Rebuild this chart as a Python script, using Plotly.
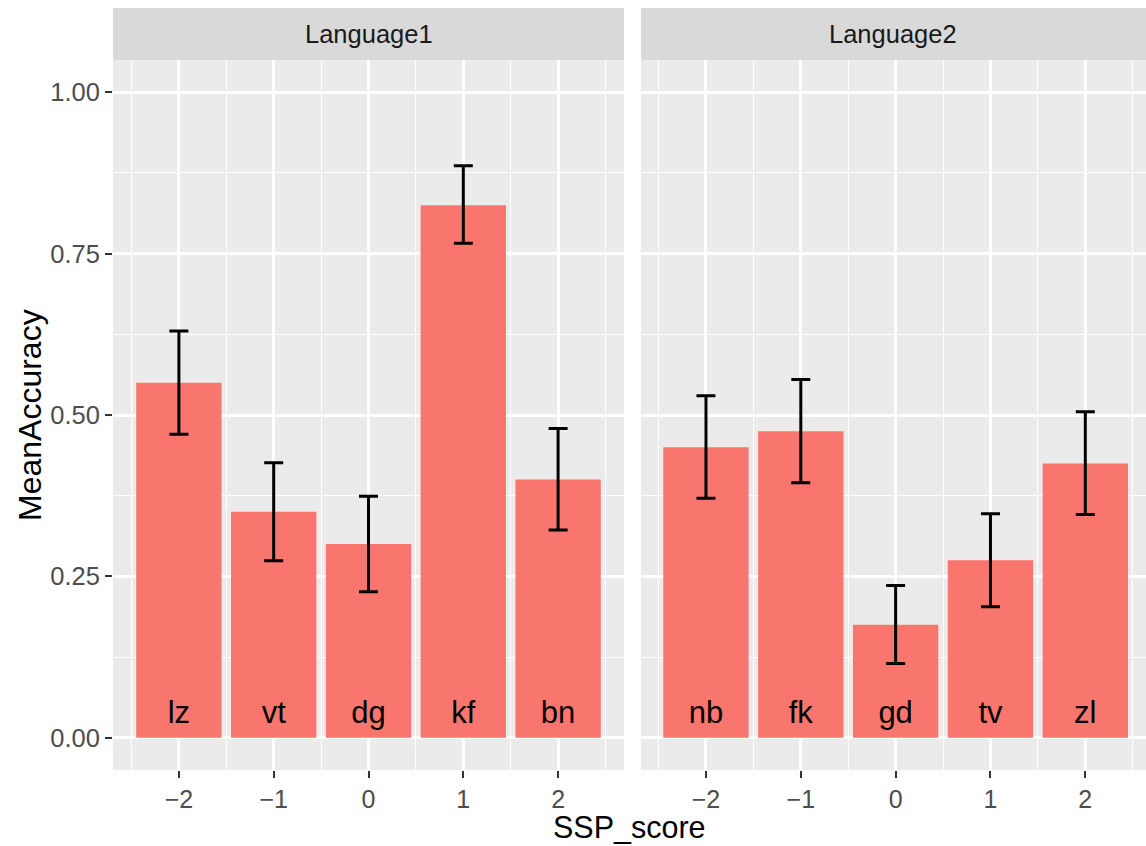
import plotly.graph_objects as go

ssp = [-2, -1, 0, 1, 2]
lang1_labels = ["lz", "vt", "dg", "kf", "bn"]
lang1_mean = [0.55, 0.35, 0.30, 0.825, 0.40]
lang1_lo = [0.470, 0.274, 0.226, 0.766, 0.322]
lang1_hi = [0.630, 0.426, 0.374, 0.886, 0.479]

lang2_labels = ["nb", "fk", "gd", "tv", "zl"]
lang2_mean = [0.45, 0.475, 0.175, 0.275, 0.425]
lang2_lo = [0.371, 0.395, 0.115, 0.203, 0.346]
lang2_hi = [0.530, 0.555, 0.236, 0.347, 0.505]

facets = ["Language1", "Language2"]
label_y = 0.035

BAR = "#F8766D"
W, H = 1146, 846
ml, mr, mt, mb = 113, 0, 8, 76
pw = W - ml - mr
ph = H - mt - mb
p1 = (0, (624 - ml) / pw)
p2 = ((641 - ml) / pw, 1.0)
ytop = (770 - 60) / ph

FONT = "Liberation Sans, Arial"

fig = go.Figure()
for i, (mean, lo, hi, labs) in enumerate([
        (lang1_mean, lang1_lo, lang1_hi, lang1_labels),
        (lang2_mean, lang2_lo, lang2_hi, lang2_labels)]):
    xa = "x" if i == 0 else "x2"
    ya = "y" if i == 0 else "y2"
    fig.add_trace(go.Bar(
        x=ssp, y=mean, width=0.9, marker=dict(color=BAR, line=dict(width=0)),
        error_y=dict(type="data", symmetric=False,
                     array=[h - m for h, m in zip(hi, mean)],
                     arrayminus=[m - l for l, m in zip(lo, mean)],
                     color="black", thickness=3, width=9.5),
        xaxis=xa, yaxis=ya, showlegend=False, hoverinfo="skip"))
    fig.add_trace(go.Scatter(
        x=ssp, y=[label_y] * len(ssp), text=labs, mode="text",
        textposition="middle center",
        textfont=dict(family=FONT, size=31, color="black"),
        xaxis=xa, yaxis=ya, showlegend=False, hoverinfo="skip"))

tickfont = dict(family=FONT, size=25, color="#4D4D4D")
xcommon = dict(
    range=[-2.695, 2.695], tickvals=ssp, ticktext=["\u22122", "\u22121", "0", "1", "2"],
    showgrid=True, gridcolor="white", gridwidth=2.6,
    minor=dict(dtick=0.5, tick0=0.5, showgrid=True, gridcolor="white", gridwidth=1.3, ticks=""),
    ticks="outside", ticklen=7, tickwidth=2.2, tickcolor="#333333",
    tickfont=tickfont, zeroline=False, showline=False, fixedrange=True)
ycommon = dict(
    range=[-0.05, 1.05], tickvals=[0, 0.25, 0.5, 0.75, 1.0],
    ticktext=["0.00", "0.25", "0.50", "0.75", "1.00"],
    showgrid=True, gridcolor="white", gridwidth=2.6,
    minor=dict(dtick=0.125, tick0=0.125, showgrid=True, gridcolor="white", gridwidth=1.3, ticks=""),
    zeroline=False, showline=False, domain=[0, ytop], fixedrange=True)

fig.update_layout(
    width=W, height=H,
    margin=dict(l=ml, r=mr, t=mt, b=mb, pad=0),
    paper_bgcolor="white", plot_bgcolor="#EBEBEB",
    font=dict(family=FONT),
    xaxis=dict(domain=list(p1), anchor="y", **xcommon),
    xaxis2=dict(domain=list(p2), anchor="y2", **{**xcommon, "range": [-2.685, 2.64]}),
    yaxis=dict(anchor="x", ticks="outside", ticklen=7, tickwidth=2.2, tickcolor="#333333",
               tickfont={**tickfont, "size": 25.5}, **ycommon),
    yaxis2=dict(anchor="x2", showticklabels=False, ticks="", **ycommon),
    bargap=0.1,
)

for dom, name in zip([p1, p2], facets):
    fig.add_shape(type="rect", xref="paper", yref="paper",
                  x0=dom[0], x1=dom[1], y0=ytop, y1=1.0,
                  fillcolor="#D9D9D9", line=dict(width=0), layer="below")
    fig.add_annotation(text=name, xref="paper", yref="paper",
                       x=(dom[0] + dom[1]) / 2, y=(ytop + 1) / 2,
                       showarrow=False, xanchor="center", yanchor="middle",
                       font=dict(family=FONT, size=25.5, color="#1A1A1A"))

fig.add_annotation(text="SSP_score", xref="paper", yref="paper",
                   x=0.5, y=0, yshift=-57, showarrow=False, borderpad=0,
                   xanchor="center", yanchor="middle",
                   font=dict(family=FONT, size=30.5, color="black"))
fig.add_annotation(text="MeanAccuracy", xref="paper", yref="paper",
                   x=0, xshift=-83, y=ytop / 2, textangle=-90, showarrow=False,
                   xanchor="center", yanchor="middle",
                   font=dict(family=FONT, size=32, color="black"))

fig.write_html("out.html")
